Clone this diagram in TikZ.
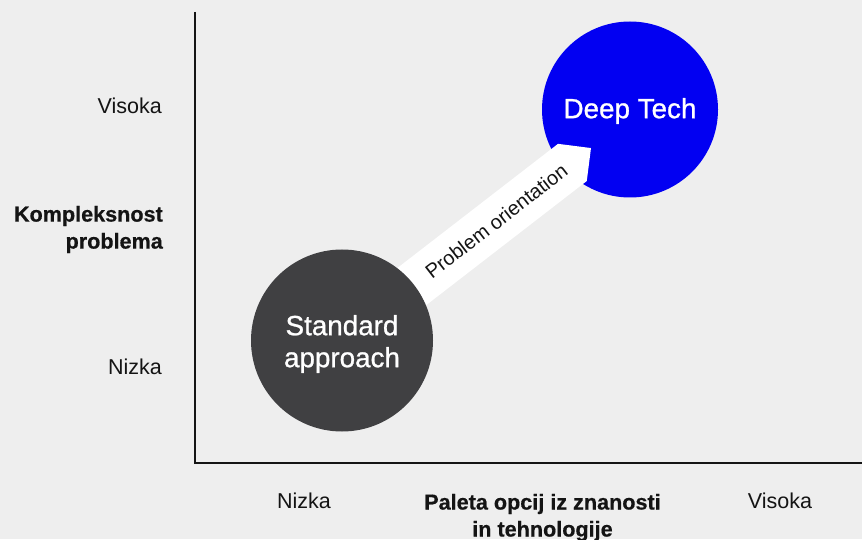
\documentclass[tikz,border=0pt]{standalone}
\usepackage{fontspec}
\setmainfont{Liberation Sans}
\definecolor{bg}{RGB}{238,238,238}
\definecolor{deepblue}{RGB}{2,0,242}
\definecolor{stdgray}{RGB}{64,64,66}
\definecolor{ink}{RGB}{20,20,20}
\tikzset{
  axisline/.style={line width=2pt, draw=ink, line join=miter},
  levellabel/.style={inner sep=0pt, text=ink, font=\fontsize{21.5}{26}\selectfont},
  axistitle/.style={inner sep=0pt, text=ink,
    font=\bfseries\fontsize{21.6}{27}\selectfont\addfontfeature{FakeBold=0.6}},
  bubble/.style={circle, inner sep=0pt},
  bubbletext/.style={inner sep=0pt, text=white, align=center,
    font=\fontsize{27.8}{32}\selectfont\addfontfeature{FakeBold=0.9}},
  arrowbody/.style={fill=white},
  arrowtext/.style={inner sep=0pt, text=ink, font=\fontsize{20}{24}\selectfont}
}
\begin{document}
\begin{tikzpicture}[x=1pt, y=1pt]
  % canvas
  \fill[bg] (0,0) rectangle (862,539);
  \useasboundingbox (0,0) rectangle (862,539);

  % axes
  \coordinate (ytop) at (195,527);
  \coordinate (origin) at (195,76);
  \coordinate (xend) at (862,76);
  \draw[axisline] (ytop) -- (origin) -- (xend);

  % vertical axis labels
  \node[levellabel, anchor=base east] (yhigh) at (162,425) {Visoka};
  \node[levellabel, anchor=base east] (ylow) at (162,165) {Nizka};
  \node[axistitle, align=right, anchor=east] (ytitle) at (163,309.5) {Kompleksnost\\problema};

  % horizontal axis labels
  \node[levellabel, anchor=base] (xlow) at (304,31) {Nizka};
  \node[levellabel, anchor=base] (xhigh) at (780,31) {Visoka};
  \node[axistitle, align=center] (xtitle) at (542.5,21.5) {Paleta opcij iz znanosti\\in tehnologije};

  % bubbles
  \node[bubble, fill=deepblue, minimum size=176pt] (deep) at (630,429.5) {};
  \node[bubble, minimum size=182pt] (std) at (342,198.5) {};

  % arrow from the standard approach towards deep tech
  \begin{scope}[shift={(std.center)}, rotate=37.7]
    \fill[arrowbody] (70,23.5) -- (291.2,23.5) -- (314.7,0) -- (291.2,-23.5) -- (70,-23.5) -- cycle;
    \coordinate (tip) at (314.7,0);
  \end{scope}
  \path (std.center) ++(37.7:195) node[arrowtext, rotate=37.7] (orient) {Problem orientation};

  % standard approach bubble on top of the arrow tail
  \fill[stdgray] (std.center) circle (91);

  % bubble labels
  \node[bubbletext] (deeplabel) at ([yshift=-1.5pt]deep.center) {Deep Tech};
  \node[bubbletext] (stdlabel) at ([yshift=-3.5pt]std.center) {Standard\\approach};
\end{tikzpicture}
\end{document}
